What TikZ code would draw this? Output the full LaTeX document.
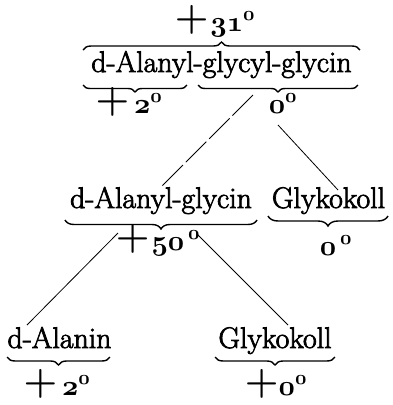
\RequirePackage{fix-cm}
\documentclass[tikz,border=0pt]{standalone}
\usepackage{fontspec}
\newfontface\heavy{Latin Modern Roman}[FakeBold=2.5]
\usetikzlibrary{decorations.pathreplacing}
\newcommand{\bigplus}{\raisebox{2pt}{\scalebox{1.35}{$\unboldmath+$}}}
\newcommand{\osn}[1]{\mathnormal{#1}}
\begin{document}
\begin{tikzpicture}[x=1pt,y=-1pt,
  word/.style={inner sep=0pt,anchor=base,font=\fontsize{29.8}{34}\heavy},
  lab/.style={inner sep=0pt,anchor=base,font=\fontsize{28.5}{34}\selectfont\boldmath},
  brc/.style={decorate,decoration={brace,amplitude=#1},line width=1.4pt},
  brc/.default=8pt,
  link/.style={line width=0.8pt}]
\useasboundingbox (0,0) rectangle (392,405);
% texts
\node[word] (tri) at (221.5,72) {d-Alanyl-glycyl-glycin};
\node[word] (di) at (161,208) {d-Alanyl-glycin};
\node[word] (gly1) at (328.5,208) {Glykokoll};
\node[word] (ala) at (59.5,348) {d-Alanin};
\node[word] (gly2) at (275,348) {Glykokoll};
% values
\node[lab] (v31) at (215,31) {\bigplus\kern2pt$\osn{31}^{\osn{0}}$};
\node[lab] (v2a) at (129,113) {\bigplus\,$\osn{2}^{\osn{0}}$};
\node[lab] (v0a) at (283,113) {$\osn{0}^{\osn{0}}$};
\node[lab] (v50) at (158,250) {\bigplus\kern2pt$\osn{50}^{\,\osn{0}}$};
\node[lab] (v0b) at (336,255) {$\osn{0}^{\,\osn{0}}$};
\node[lab] (v2b) at (57,395) {\bigplus\,$\osn{2}^{\osn{0}}$};
\node[lab] (v0c) at (276,395) {\bigplus$\osn{0}^{\osn{0}}$};
% braces
\draw[brc] (83,50) -- (360,50);
\draw[brc=7pt] (187,85) -- (83,85);
\draw[brc=7pt] (358,85) -- (198,85);
\draw[brc=9pt] (257,220) -- (65,220);
\draw[brc=10pt] (388,216) -- (268,216);
\draw[brc] (110,357) -- (7,357);
\draw[brc] (335,357) -- (215,357);
% connectors
\coordinate (a1) at (253,95);
\coordinate (a2) at (160,188);
\coordinate (b1) at (278,125);
\coordinate (b2) at (338,190);
\coordinate (c1) at (118,233);
\coordinate (c2) at (27,325);
\coordinate (d1) at (198,235);
\coordinate (d2) at (288,325);
\draw[link,dash pattern=on 29pt off 4pt] (a1) -- (a2);
\draw[link] (b1) -- (b2);
\draw[link] (c1) -- (c2);
\draw[link] (d1) -- (d2);
\end{tikzpicture}
\end{document}
